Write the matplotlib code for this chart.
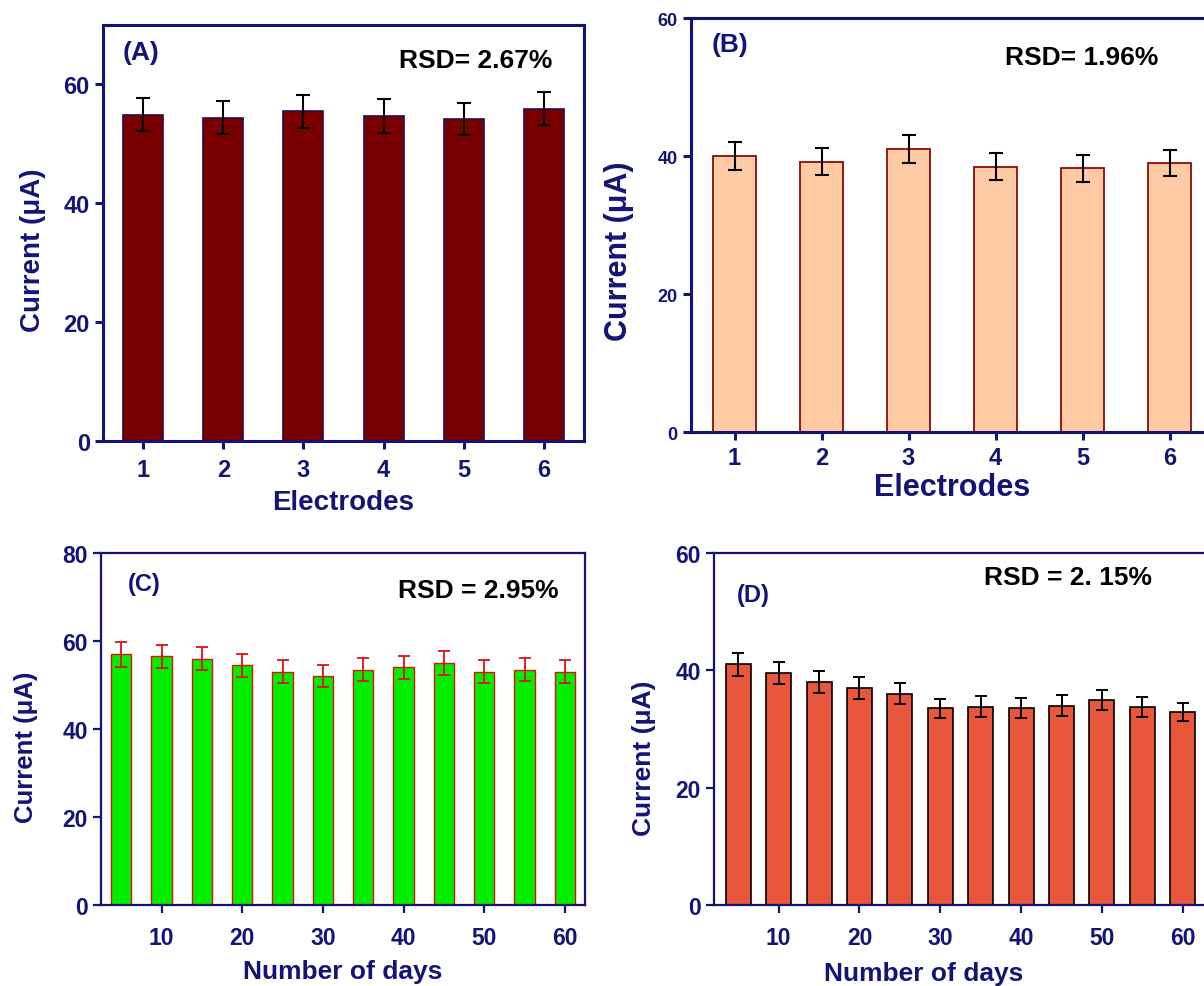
import matplotlib.pyplot as plt

plt.rcParams['font.family'] = ['Liberation Sans', 'DejaVu Sans']
plt.rcParams['font.weight'] = 'bold'

navy = '#141478'

# (A) reproducibility, electrodes
electrodes = [1, 2, 3, 4, 5, 6]
cur_a = [54.9, 54.4, 55.5, 54.7, 54.2, 55.9]
err_a = [2.75, 2.75, 2.75, 2.8, 2.75, 2.8]

# (B) reproducibility, electrodes
cur_b = [40.0, 39.2, 41.0, 38.45, 38.2, 39.0]
err_b = [2.0, 2.0, 2.0, 1.95, 2.0, 1.9]

# (C) stability over days
days = [5, 10, 15, 20, 25, 30, 35, 40, 45, 50, 55, 60]
cur_c = [57.0, 56.5, 56.0, 54.5, 53.0, 52.0, 53.5, 54.0, 55.0, 53.0, 53.5, 53.0]
err_c = [2.8, 2.7, 2.7, 2.6, 2.6, 2.5, 2.6, 2.6, 2.7, 2.6, 2.6, 2.6]

# (D) stability over days
cur_d = [41.0, 39.5, 38.0, 37.0, 36.0, 33.5, 33.8, 33.6, 34.0, 35.0, 33.7, 32.9]
err_d = [1.95, 1.9, 1.9, 1.85, 1.8, 1.65, 1.75, 1.7, 1.8, 1.7, 1.7, 1.6]

W, H = 1204, 987
fig = plt.figure(figsize=(W / 100, H / 100), dpi=100)


def px_axes(x0, y0, x1, y1):
    return fig.add_axes([x0 / W, 1 - y1 / H, (x1 - x0) / W, (y1 - y0) / H])


def style(ax, lw, xsize, ysize, xpad=3.5, ypad=3.5):
    for s in ax.spines.values():
        s.set_color(navy)
        s.set_linewidth(lw)
    ax.tick_params(axis='both', colors=navy, direction='out', width=lw, length=6)
    ax.tick_params(axis='x', labelsize=xsize, pad=xpad)
    ax.tick_params(axis='y', labelsize=ysize, pad=ypad)
    for t in ax.get_xticklabels() + ax.get_yticklabels():
        t.set_fontweight('bold')


# panel A
ax = px_axes(103, 26, 584, 442)
ax.bar(electrodes, cur_a, width=0.5, color='#7a0000', edgecolor='#2a0a50', linewidth=1.2,
       yerr=err_a, error_kw=dict(ecolor='black', elinewidth=1.5, capsize=5, capthick=1.5))
ax.set_xlim(0.5, 6.5)
ax.set_ylim(0, 70)
ax.set_xticks(electrodes)
ax.set_yticks([0, 20, 40, 60])
style(ax, 2.2, 17, 17, xpad=6)
ax.set_xlabel('Electrodes', fontsize=20, fontweight='bold', color=navy, labelpad=6)
ax.set_ylabel('Current (μA)', fontsize=20, fontweight='bold', color=navy)
ax.yaxis.set_label_coords(-0.118, 0.46)
ax.text(0.04, 0.965, '(A)', transform=ax.transAxes, fontsize=19, fontweight='bold',
        color=navy, va='top')
ax.text(0.935, 0.945, 'RSD= 2.67%', transform=ax.transAxes, fontsize=19, fontweight='bold',
        color='black', va='top', ha='right')

# panel B
ax = px_axes(691, 19, 1213, 433)
ax.bar(electrodes, cur_b, width=0.5, color='#ffcba4', edgecolor='#8b0a0a', linewidth=1.3,
       yerr=err_b, error_kw=dict(ecolor='black', elinewidth=1.5, capsize=5, capthick=1.5))
ax.set_xlim(0.5, 6.5)
ax.set_ylim(0, 60)
ax.set_xticks(electrodes)
ax.set_yticks([0, 20, 40, 60])
style(ax, 2.2, 17, 13, xpad=4)
ax.set_xlabel('Electrodes', fontsize=22, fontweight='bold', color=navy, labelpad=2)
ax.set_ylabel('Current (μA)', fontsize=22, fontweight='bold', color=navy)
ax.yaxis.set_label_coords(-0.11, 0.44)
ax.text(0.04, 0.965, '(B)', transform=ax.transAxes, fontsize=19, fontweight='bold',
        color=navy, va='top')
ax.text(0.895, 0.935, 'RSD= 1.96%', transform=ax.transAxes, fontsize=19, fontweight='bold',
        color='black', va='top', ha='right')

# panel C
ax = px_axes(101, 554, 585, 906)
ax.bar(days, cur_c, width=2.5, color='#00ee00', edgecolor='#e01010', linewidth=1.0,
       yerr=err_c, error_kw=dict(ecolor='#e01010', elinewidth=1.3, capsize=4, capthick=1.3))
ax.set_xlim(2.5, 62.5)
ax.set_ylim(0, 80)
ax.set_xticks([10, 20, 30, 40, 50, 60])
ax.set_yticks([0, 20, 40, 60, 80])
style(ax, 1.6, 16.5, 16.5, xpad=9)
ax.set_xlabel('Number of days', fontsize=19, fontweight='bold', color=navy, labelpad=7)
ax.set_ylabel('Current (μA)', fontsize=18.5, fontweight='bold', color=navy)
ax.yaxis.set_label_coords(-0.13, 0.45)
ax.text(0.056, 0.945, '(C)', transform=ax.transAxes, fontsize=17, fontweight='bold',
        color=navy, va='top')
ax.text(0.946, 0.93, 'RSD = 2.95%', transform=ax.transAxes, fontsize=19, fontweight='bold',
        color='black', va='top', ha='right')

# panel D
ax = px_axes(714, 554, 1207, 906)
ax.bar(days, cur_d, width=3.1, color='#e8573b', edgecolor='black', linewidth=1.2,
       yerr=err_d, error_kw=dict(ecolor='black', elinewidth=1.4, capsize=4, capthick=1.4))
ax.set_xlim(2.0, 63.0)
ax.set_ylim(0, 60)
ax.set_xticks([10, 20, 30, 40, 50, 60])
ax.set_yticks([0, 20, 40, 60])
style(ax, 1.6, 16.5, 16.5, xpad=9)
ax.set_xlabel('Number of days', fontsize=19, fontweight='bold', color=navy)
ax.xaxis.set_label_coords(0.426, -0.16)
ax.set_ylabel('Current (μA)', fontsize=19, fontweight='bold', color=navy)
ax.yaxis.set_label_coords(-0.118, 0.42)
ax.text(0.047, 0.915, '(D)', transform=ax.transAxes, fontsize=17, fontweight='bold',
        color=navy, va='top')
ax.text(0.888, 0.965, 'RSD = 2. 15%', transform=ax.transAxes, fontsize=19, fontweight='bold',
        color='black', va='top', ha='right')

fig.savefig('out.png', dpi=100)
